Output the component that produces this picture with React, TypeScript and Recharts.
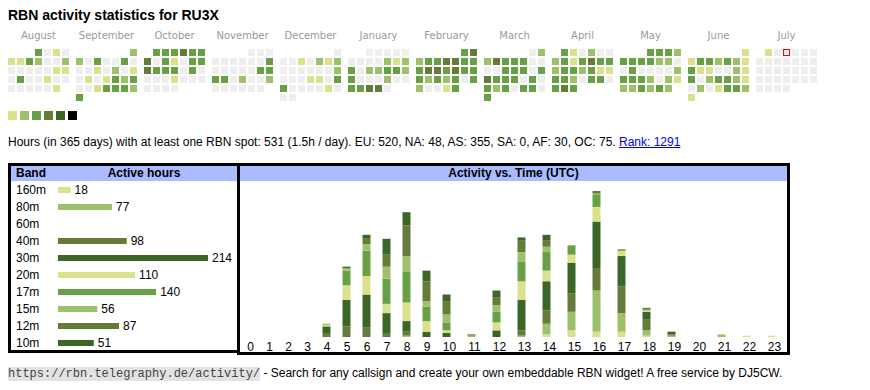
import React from 'react';
import { ScatterChart, Scatter, XAxis, YAxis, BarChart, Bar, Cell, LabelList } from 'recharts';

// ---------- palette ----------
const EMPTY = '#eeeeee';
const C_Y = '#d9e18a';
const C_L = '#9dc16a';
const C_M = '#68a046';
const C_O = '#657b3a';
const C_D = '#3b6627';
const LEVEL_COLORS = [EMPTY, C_Y, C_L, C_M, C_O, C_D, '#000000'];
const LEGEND_COLORS = [C_Y, C_L, C_M, C_O, C_D, '#000000'];

// ---------- calendar heatmap data (activity level per day) ----------
const monthNames = ['August', 'September', 'October', 'November', 'December', 'January', 'February', 'March', 'April', 'May', 'June', 'July'];
const startYear = 2024;
const startMonth = 7; // August (0-based)
const aug = [3,0,1,0, 1,1,3,2,0,0,2, 0,0,0,0,0,1,1, 0,3,0,0,1,0,0, 0,0,0,0,0,1];
const sep = [2, 2,0,3,0,0,3,0, 0,0,1,0,2,0,1, 0,1,0,1,3,2,3, 0,0,1,3,3,3,2, 3];
const oct = [3,3,3,4,3,3, 4,0,3,1,0,3,3, 4,3,3,3,0,3,0, 0,0,0,1,0,0,0, 0,0,0,0];
const nov = [0,0,0, 0,0,0,0,0,0,3, 0,0,0,0,0,3,3, 3,3,0,2,0,0,2, 0,0,0,0,0,0];
const dec = [0, 0,0,1,0,2,1,2, 0,0,0,0,0,0,2, 0,0,0,1,1,0,3, 3,0,0,0,0,1,0, 0,0];
const jan = [0,0,0,0,0, 0,0,0,0,2,1,2, 3,0,2,2,3,3,2, 3,0,0,0,2,0,0, 3,3,4,4,0];
const feb = [3,4, 2,3,3,4,4,3,3, 3,4,4,3,4,3,3, 3,2,3,2,3,0,3, 2,0,0,1,3];
const mar = [0,2, 2,4,3,3,3,0,0, 0,0,3,3,3,0,3, 4,3,3,3,0,3,0, 3,2,3,0,3,3,0, 3];
const apr = [3,1,0,2,0,0, 2,3,1,3,4,3,3, 2,3,3,2,3,1,1, 3,3,2,0,3,3,0, 3,4,3];
const may = [3,3,3,2, 3,3,3,3,2,2,0, 0,3,0,0,0,0,2, 3,3,3,2,0,2,1, 2,2,3,2,3,2];
const jun = [1, 1,3,3,2,3,2,1, 3,1,1,0,0,2,1, 3,0,2,3,3,2,1, 0,2,0,1,3,3,2, 1];
const jul = [1,0,0,0,0,0, 0,0,0,0,0,0,0, 0,0,0,0,0,0,0, 0,0,0,0,0,0,0, 0,0,0,0];
const monthLevels = [aug, sep, oct, nov, dec, jan, feb, mar, apr, may, jun, jul];
const todayMonth = 11;
const todayDay = 3;

// ---------- band statistics ----------
const bandNames = ['160m', '80m', '60m', '40m', '30m', '20m', '17m', '15m', '12m', '10m'];
const bandActiveHours = [18, 77, 0, 98, 214, 110, 140, 56, 87, 51];
const bandColors = [C_Y, C_L, C_M, C_O, C_D, C_Y, C_M, C_L, C_O, C_D];

// ---------- activity vs time (UTC), per band, hours 0..23 ----------
const hourLabels = ['0','1','2','3','4','5','6','7','8','9','10','11','12','13','14','15','16','17','18','19','20','21','22','23'];
const h160 = [0,0,0,0,0,0,0,0,0,0,0,0,0,0,2,5,4,4,1,0,0,0,1,1];
const h80  = [0,0,0,0,0,0,0,0,1,0,0,0,0,1,8,14,31,14,4,1,0,2,0,0];
const h60  = [0,0,0,0,0,0,0,0,0,0,0,0,0,0,0,0,0,0,0,0,0,0,0,0];
const h40  = [0,0,0,0,3,8,7,3,3,0,0,0,0,4,10,14,17,20,8,1,0,0,0,0];
const h30  = [0,0,0,0,5,20,25,15,8,4,3,0,5,23,22,23,35,23,6,2,0,0,0,0];
const h20  = [0,0,0,0,1,11,14,7,14,8,2,0,6,14,8,6,11,4,1,0,0,0,0,0];
const h17  = [0,0,0,0,0,11,19,19,23,11,6,0,8,15,14,6,9,0,1,0,0,0,0,0];
const h15  = [0,0,0,0,1,2,5,9,12,4,6,1,5,7,4,0,1,0,0,0,0,0,0,0];
const h12  = [0,0,0,0,0,0,4,9,23,15,10,1,6,9,5,1,2,1,1,0,0,0,0,0];
const h10  = [0,0,0,0,0,1,3,12,10,8,5,0,5,2,4,0,0,0,0,0,0,0,0,0];
const bandHourly = [h160, h80, h60, h40, h30, h20, h17, h15, h12, h10];

// ---------- layout helpers ----------
const CELL = 9; // px per calendar cell pitch
const MONTH_PITCH = 68 / CELL; // month block pitch in cell units

const heatData = monthLevels.flatMap((levels, m) => {
  const first = (new Date(startYear, startMonth + m, 1).getDay() + 6) % 7; // Monday first
  return levels.map((level, i) => {
    const idx = first + i;
    return {
      x: m * MONTH_PITCH + (idx % 7),
      y: Math.floor(idx / 7),
      level,
      today: m === todayMonth && i + 1 === todayDay,
    };
  });
});
const monthCenters = monthNames.map((_, m) => m * MONTH_PITCH + 3);
const heatMaxX = (monthNames.length - 1) * MONTH_PITCH + 6.5;

const FONT = '"Liberation Sans", Arial, sans-serif';

// hour columns: table-like widths (two-digit labels wider, empty single-digit columns narrower)
let colLeft = 0;
const hourData = hourLabels.map((label, h) => {
  const total = bandHourly.reduce((s, arr) => s + arr[h], 0);
  const w = label.length > 1 ? 25 : total > 0 ? 20 : 19;
  const row: any = { label, pos: colLeft + 10, dx: w / 2 - 10, total };
  bandNames.forEach((b, i) => { row[b] = bandHourly[i][h]; });
  colLeft += w;
  return row;
});
const hourSpan = colLeft;
const hourMax = Math.max(...hourData.map((d) => d.total));

const bandRows = bandNames.map((band, i) => ({ band, hours: bandActiveHours[i] }));
const bandMax = Math.max(...bandActiveHours);

const HeatCell = (props: any) => {
  const { cx, cy, payload } = props;
  if (payload.today) {
    return <rect x={cx - 3} y={cy - 3} width={6} height={6} fill={EMPTY} stroke="#ff0000" strokeWidth={1} />;
  }
  return <rect x={cx - 3.5} y={cy - 3.5} width={7} height={7} fill={LEVEL_COLORS[payload.level]} />;
};

const MonthTick = (props: any) => (
  <text x={props.x} y={props.y - 9} textAnchor="middle" fontFamily='"DejaVu Sans", sans-serif' fontSize={10} fill="#999999">
    {monthNames[props.index]}
  </text>
);

const HourTick = (props: any) => {
  const d = hourData[props.index];
  if (!d) return null;
  return (
    <text x={props.x + d.dx} y={props.y + 14} textAnchor="middle" fontFamily={FONT} fontSize={12} fill="#000">
      {d.label}
    </text>
  );
};

const BandTick = (props: any) => (
  <text x={6} y={props.y + 4} textAnchor="start" fontFamily={FONT} fontSize={12} fill="#000">
    {props.payload.value}
  </text>
);

export default function App() {
  return (
    <div style={{ position: 'absolute', left: 0, top: 0, width: 870, height: 390, background: '#fff', fontFamily: FONT, color: '#000' }}>
      {/* Title */}
      <div style={{ position: 'absolute', left: 8, top: 7, fontSize: 14, fontWeight: 'bold', lineHeight: '16px', whiteSpace: 'nowrap' }}>
        RBN activity statistics for RU3X
      </div>

      {/* Calendar heatmap */}
      <div style={{ position: 'absolute', left: 7, top: 24 }}>
        <ScatterChart width={811} height={78} margin={{ top: 0, right: 0, bottom: 0, left: 0 }}>
          <XAxis
            type="number"
            dataKey="x"
            orientation="top"
            domain={[-0.5, heatMaxX]}
            ticks={monthCenters}
            interval={0}
            tick={<MonthTick />}
            axisLine={false}
            tickLine={false}
            tickSize={0}
            tickMargin={0}
            height={24}
            allowDataOverflow
          />
          <YAxis type="number" dataKey="y" domain={[-0.5, 5.5]} reversed hide allowDataOverflow />
          <Scatter data={heatData} isAnimationActive={false} shape={<HeatCell />} />
        </ScatterChart>
      </div>

      {/* Legend squares */}
      {LEGEND_COLORS.map((c, i) => (
        <div key={i} style={{ position: 'absolute', left: 8 + i * 12, top: 111, width: 9, height: 9, background: c }} />
      ))}

      {/* Summary line */}
      <div style={{ position: 'absolute', left: 8, top: 135, fontSize: 12, lineHeight: '14px', whiteSpace: 'nowrap' }}>
        Hours (in 365 days) with at least one RBN spot: 531 (1.5h / day). EU: 520, NA: 48, AS: 355, SA: 0, AF: 30, OC: 75.{' '}
        <a href="#" style={{ color: '#0000ee', textDecoration: 'underline' }}>Rank: 1291</a>
      </div>

      {/* Left panel: bands */}
      <div style={{ position: 'absolute', left: 8, top: 163, width: 232, height: 190, border: '3px solid #000', boxSizing: 'border-box' }} />
      <div style={{ position: 'absolute', left: 11, top: 166, width: 226, height: 15, background: '#aabbff' }} />
      <div style={{ position: 'absolute', left: 16, top: 166, fontSize: 12, fontWeight: 'bold', lineHeight: '15px' }}>Band</div>
      <div style={{ position: 'absolute', left: 94, top: 166, width: 100, textAlign: 'center', fontSize: 12, fontWeight: 'bold', lineHeight: '15px' }}>Active hours</div>
      <div style={{ position: 'absolute', left: 10, top: 181 }}>
        <BarChart layout="vertical" width={228} height={170} data={bandRows} margin={{ top: 0, right: 30, bottom: 0, left: 0 }} barCategoryGap={0}>
          <XAxis type="number" hide domain={[0, bandMax]} />
          <YAxis type="category" dataKey="band" width={48} tick={<BandTick />} axisLine={false} tickLine={false} interval={0} />
          <Bar dataKey="hours" barSize={6} isAnimationActive={false}>
            {bandRows.map((r, i) => (
              <Cell key={r.band} fill={bandColors[i]} />
            ))}
            <LabelList
              dataKey="hours"
              position="right"
              offset={4}
              fontSize={12}
              fontFamily={FONT}
              fill="#000"
              formatter={(v: any) => (v ? v : '')}
            />
          </Bar>
        </BarChart>
      </div>

      {/* Right panel: activity vs time */}
      <div style={{ position: 'absolute', left: 237, top: 163, width: 553, height: 192, border: '3px solid #000', boxSizing: 'border-box' }} />
      <div style={{ position: 'absolute', left: 240, top: 166, width: 547, height: 15, background: '#aabbff' }} />
      <div style={{ position: 'absolute', left: 240, top: 166, width: 547, textAlign: 'center', fontSize: 12, fontWeight: 'bold', lineHeight: '15px' }}>
        Activity vs. Time (UTC)
      </div>
      <div style={{ position: 'absolute', left: 241, top: 191 }}>
        <BarChart width={hourSpan} height={166} data={hourData} margin={{ top: 0, right: 0, bottom: 0, left: 0 }}>
          <XAxis
            type="number"
            dataKey="pos"
            domain={[0, hourSpan]}
            ticks={hourData.map((d) => d.pos)}
            interval={0}
            tick={<HourTick />}
            axisLine={false}
            tickLine={false}
            tickSize={0}
            tickMargin={0}
            height={20}
            allowDataOverflow
          />
          <YAxis hide type="number" domain={[0, hourMax]} />
          {bandNames.map((b, i) => (
            <Bar key={b} dataKey={b} stackId="hours" fill={bandColors[i]} barSize={8} isAnimationActive={false} />
          ))}
        </BarChart>
      </div>

      {/* Footer */}
      <div style={{ position: 'absolute', left: 8, top: 366, fontSize: 12, lineHeight: '14px', whiteSpace: 'nowrap' }}>
        <span style={{ fontFamily: '"Liberation Mono", monospace', fontSize: 12, color: '#444', background: '#e2e2e2' }}>
          https://rbn.telegraphy.de/activity/
        </span>{' '}
        - Search for any callsign and create your own embeddable RBN widget! A free service by DJ5CW.
      </div>
    </div>
  );
}
